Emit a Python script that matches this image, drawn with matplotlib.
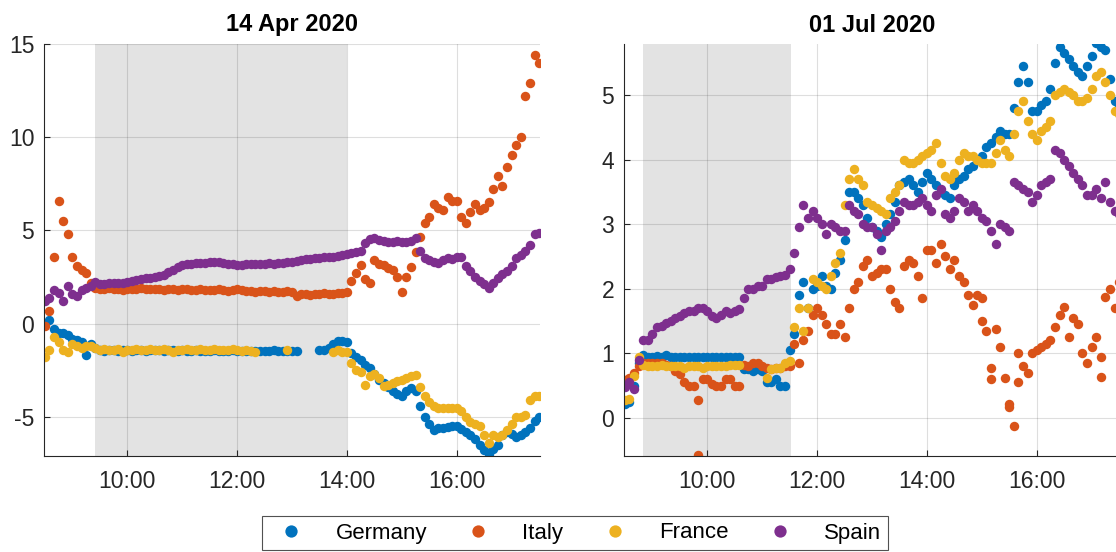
import numpy as np
import pandas as pd
import matplotlib
matplotlib.use('Agg')
import matplotlib.pyplot as plt
import matplotlib.dates as mdates

plt.rcParams['font.family'] = ['Liberation Sans', 'DejaVu Sans']
plt.rcParams['axes.unicode_minus'] = False

nan = np.nan
countries = ['Germany', 'Italy', 'France', 'Spain']
colors = ['#0072BD', '#D95319', '#EDB120', '#7E2F8E']

# values every 5 minutes, 08:30 ... 17:30 (one row = one hour starting at :30)
germany_apr = [0.0, 0.2, -0.3, -0.5, -0.5, -0.6, -0.8, -0.9, -1.0, -1.7, -1.1, -1.3,
               -1.4, -1.45, -1.4, -1.4, -1.45, -1.4, -1.4, -1.45, -1.4, -1.4, -1.45, -1.4,
               -1.4, -1.4, -1.45, -1.4, -1.4, -1.45, -1.4, -1.45, -1.45, -1.4, -1.45, -1.45,
               -1.45, -1.4, -1.45, -1.45, -1.45, -1.4, -1.45, -1.45, -1.45, -1.45, -1.45, -1.45,
               -1.45, -1.45, -1.4, -1.45, -1.45, -1.45, -1.45, -1.45, nan, nan, nan, nan,
               -1.4, -1.4, -1.3, -1.1, -0.95, -0.95, -1.0, -1.6, -1.8, -1.95, -2.2, -2.4,
               -2.7, -3.0, -3.2, -3.4, -3.6, -3.75, -3.9, -3.6, -3.45, -3.6, -4.4, -5.0,
               -5.4, -5.7, -5.6, -5.6, -5.55, -5.5, -5.5, -5.65, -5.8, -6.0, -6.2, -6.5,
               -6.8, -7.0, -6.7, -6.5, -6.0, -5.8, -5.9, -6.1, -6.0, -5.8, -5.6, -5.2,
               -5.0]
italy_apr = [-0.1, 0.7, 3.6, 6.6, 5.5, 4.8, 3.6, 3.1, 2.9, 2.7, 2.2, 1.9,
             1.85, 1.85, 1.9, 1.85, 1.85, 1.8, 1.85, 1.85, 1.85, 1.9, 1.85, 1.85,
             1.85, 1.85, 1.8, 1.85, 1.85, 1.8, 1.85, 1.85, 1.8, 1.8, 1.85, 1.8,
             1.8, 1.8, 1.85, 1.8, 1.75, 1.8, 1.85, 1.8, 1.75, 1.75, 1.7, 1.75,
             1.75, 1.7, 1.75, 1.7, 1.7, 1.75, 1.7, 1.5, 1.6, 1.6, 1.55, 1.6,
             1.6, 1.65, 1.6, 1.6, 1.65, 1.65, 1.7, 2.3, 2.7, 3.15, 2.4, 2.2,
             3.4, 3.2, 3.15, 3.0, 2.9, 2.5, 1.7, 2.5, 3.05, 3.85, 4.65, 5.4,
             5.7, 6.4, 6.2, 6.1, 6.8, 6.6, 6.6, 5.7, 5.4, 6.0, 6.4, 6.1,
             6.2, 6.5, 7.2, 7.9, 7.4, 8.4, 9.05, 9.6, 10.0, 12.2, 12.9, 14.4,
             14.0]
france_apr = [-1.8, -1.4, -0.7, -1.0, -1.4, -1.5, -1.1, -1.2, -1.3, -1.2, -1.2, -1.3,
              -1.4, -1.35, -1.4, -1.4, -1.35, -1.5, -1.4, -1.4, -1.35, -1.4, -1.4, -1.35,
              -1.4, -1.4, -1.35, -1.4, -1.5, -1.4, -1.4, -1.35, -1.4, -1.4, -1.35, -1.4,
              -1.4, -1.35, -1.4, -1.4, -1.4, -1.35, -1.4, -1.45, -1.4, -1.45, -1.5, nan,
              nan, nan, nan, nan, nan, -1.4, nan, nan, nan, nan, nan, nan,
              nan, nan, nan, -1.5, -1.4, -1.5, -1.5, -2.1, -2.5, -2.6, -3.3, -2.8,
              -2.7, -2.9, -3.35, -3.3, -3.2, -3.1, -3.0, -2.9, -2.8, -2.75, -3.4, -3.9,
              -4.2, -4.4, -4.5, -4.5, -4.55, -4.5, -4.5, -4.7, -5.0, -5.3, -5.4, -5.5,
              -6.0, -6.4, -6.0, -6.1, -6.0, -5.7, -5.4, -5.0, -5.0, -4.9, -4.1, -3.9,
              -3.9]
spain_apr = [1.2, 1.4, 1.8, 1.65, 1.2, 2.0, 1.6, 1.5, 1.8, 1.9, 2.0, 2.25,
             2.15, 2.15, 2.2, 2.2, 2.2, 2.2, 2.25, 2.3, 2.35, 2.4, 2.45, 2.45,
             2.5, 2.55, 2.6, 2.75, 2.9, 3.05, 3.15, 3.2, 3.2, 3.25, 3.25, 3.25,
             3.3, 3.3, 3.3, 3.25, 3.2, 3.2, 3.15, 3.15, 3.2, 3.2, 3.2, 3.2,
             3.2, 3.25, 3.2, 3.25, 3.25, 3.3, 3.3, 3.35, 3.4, 3.45, 3.45, 3.5,
             3.5, 3.55, 3.6, 3.6, 3.65, 3.7, 3.75, 3.8, 3.85, 3.9, 4.3, 4.55,
             4.6, 4.5, 4.45, 4.4, 4.4, 4.45, 4.4, 4.4, 4.45, 4.6, 3.9, 3.5,
             3.4, 3.3, 3.25, 3.4, 3.5, 3.45, 3.55, 3.6, 3.1, 2.8, 2.5, 2.3,
             2.1, 1.9, 2.2, 2.45, 2.65, 2.85, 3.1, 3.5, 3.7, 3.9, 4.2, 4.8,
             4.85]

germany_jul = [0.22, 0.25, 0.5, 0.85, 0.97, 0.95, 0.95, 0.96, 0.95, 0.97, 0.95, 0.95,
               0.95, 0.95, 0.94, 0.95, 0.95, 0.95, 0.95, 0.95, 0.95, 0.95, 0.95, 0.95,
               0.95, 0.95, 0.75, 0.75, 0.73, 0.75, 0.72, 0.56, 0.55, 0.6, 0.5, 0.5,
               1.05, 1.3, 1.9, 2.1, 1.7, 2.0, 2.05, 2.2, 2.05, 2.0, 2.25, 2.45,
               2.75, 3.5, 3.5, 3.4, 3.3, 3.1, 2.95, 2.9, 2.8, 3.0, 3.15, 3.35,
               3.6, 3.65, 3.7, 3.6, 3.5, 3.65, 3.8, 3.7, 3.6, 3.5, 3.45, 3.4,
               3.6, 3.7, 3.75, 3.85, 3.9, 4.0, 4.05, 4.2, 4.25, 4.35, 4.45, 4.4,
               4.4, 4.8, 5.2, 5.45, 5.2, 4.75, 4.75, 4.85, 4.9, 5.1, 5.5, 5.75,
               5.65, 5.55, 5.45, 5.35, 5.3, 5.45, 5.6, 5.8, 5.75, 5.7, 5.25, 4.9,
               4.85]
italy_jul = [0.58, 0.62, 0.7, 0.8, 0.85, 0.85, 0.85, 0.85, 0.85, 0.82, 0.8, 0.72,
             0.68, 0.55, 0.5, 0.5, 0.28, 0.6, 0.6, 0.52, 0.5, 0.5, 0.6, 0.6,
             0.5, 0.5, 0.82, 0.8, 0.85, 0.85, 0.8, 0.78, 0.75, 0.78, 0.78, 0.8,
             0.8, 1.15, 0.85, 1.2, 1.35, 1.6, 1.7, 1.6, 1.45, 1.3, 1.3, 1.45,
             1.25, 1.7, 2.0, 2.1, 2.35, 2.45, 2.2, 2.25, 2.3, 2.3, 2.0, 1.8,
             1.7, 2.35, 2.45, 2.4, 2.2, 1.85, 2.6, 2.6, 2.4, 2.7, 2.5, 2.3,
             2.45, 2.2, 2.1, 1.9, 1.75, 1.9, 1.85, 1.35, 0.78, 1.38, 1.1, 0.62,
             0.22, -0.13, 0.55, 0.8, 0.7, 1.0, 1.05, 1.1, 1.15, 1.2, 1.4, 1.6,
             1.72, 1.25, 1.55, 1.45, 1.0, 0.85, 1.1, 1.25, 0.63, 1.87, 2.0, 1.7,
             2.1]
france_jul = [0.28, 0.3, 0.65, 0.95, 0.82, 0.8, 0.8, 0.8, 0.82, 0.8, 0.8, 0.8,
              0.8, 0.78, 0.8, 0.8, 0.8, 0.78, 0.8, 0.8, 0.8, 0.8, 0.8, 0.82,
              0.82, 0.82, nan, nan, nan, nan, nan, 0.62, 0.75, 0.77, 0.78, 0.85,
              0.88, 1.4, 1.7, 1.35, 1.7, 2.15, 2.1, 2.05, 2.0, 2.2, 2.4, 2.55,
              3.3, 3.7, 3.85, 3.7, 3.6, 3.35, 3.3, 3.25, 3.2, 3.15, 3.4, 3.5,
              3.6, 4.0, 3.95, 3.95, 4.0, 4.05, 4.1, 4.15, 4.25, 3.95, 3.75, 3.7,
              3.8, 4.0, 4.1, 4.05, 4.05, 4.0, 3.95, 3.95, 3.95, 4.1, 4.3, 4.15,
              4.05, 4.4, 4.75, 4.9, 4.6, 4.4, 4.3, 4.45, 4.5, 4.6, 5.0, 5.05,
              5.1, 5.05, 5.0, 4.9, 4.9, 4.95, 5.1, 5.3, 5.35, 5.2, 5.0, 4.75,
              4.7]
spain_jul = [0.48, 0.55, 0.45, 0.9, 1.2, 1.2, 1.3, 1.4, 1.42, 1.47, 1.5, 1.55,
             1.58, 1.62, 1.65, 1.65, 1.7, 1.7, 1.65, 1.58, 1.55, 1.6, 1.65, 1.63,
             1.65, 1.68, 1.85, 2.0, 2.0, 2.05, 2.05, 2.15, 2.15, 2.18, 2.2, 2.22,
             2.3, 2.55, 2.95, 3.3, 3.1, 3.2, 3.1, 3.0, 2.85, 3.0, 2.95, 2.9,
             2.9, 3.3, 3.2, 3.15, 3.0, 2.95, 2.95, 2.85, 2.6, 2.9, 2.95, 3.05,
             3.2, 3.35, 3.3, 3.3, 3.35, 3.4, 3.3, 3.2, 3.45, 3.55, 3.15, 3.1,
             3.2, 3.4, 3.35, 3.2, 3.3, 3.2, 3.1, 3.05, 2.9, 2.7, 3.0, 2.95,
             2.9, 3.65, 3.6, 3.55, 3.5, 3.35, 3.45, 3.6, 3.65, 3.7, 4.15, 4.1,
             4.0, 3.9, 3.8, 3.7, 3.6, 3.45, 3.45, 3.55, 3.4, 3.65, 3.35, 3.2,
             3.15]

# a few scattered Italy ticks in July that sit off the main trail
italy_jul_extra_time = ['09:50', '15:00', '15:10', '15:30', '15:40', '17:10']
italy_jul_extra = [-0.57, 1.5, 0.6, 0.17, 1.0, 0.95]

fig = plt.figure(figsize=(11.16, 5.52), dpi=100)
ax1 = fig.add_axes([44/1116, 96/552, 496/1116, 412/552])
ax2 = fig.add_axes([624/1116, 96/552, 496/1116, 412/552])


def panel(ax, day, series, shade, ylim, yticks, title, extra=None):
    times = pd.date_range(day + ' 08:30', day + ' 17:30', freq='5min')
    ax.axvspan(pd.Timestamp(day + ' ' + shade[0]), pd.Timestamp(day + ' ' + shade[1]),
               color='#e3e3e3', lw=0, zorder=0)
    for name, col, vals in zip(countries, colors, series):
        ax.plot(times, vals, 'o', ms=6.8, mec='none', color=col, label=name, zorder=2)
        if extra is not None and name == 'Italy':
            et = [pd.Timestamp(day + ' ' + t) for t in extra[0]]
            ax.plot(et, extra[1], 'o', ms=6.8, mec='none', color=col, zorder=2)
    ax.set_xlim(pd.Timestamp(day + ' 08:29'), pd.Timestamp(day + ' 17:31'))
    ax.set_xticks([pd.Timestamp(day + ' ' + h) for h in ['10:00', '12:00', '14:00', '16:00']])
    ax.xaxis.set_major_formatter(mdates.DateFormatter('%H:%M'))
    ax.set_ylim(*ylim)
    ax.set_yticks(yticks)
    ax.grid(True, color='#262626', alpha=0.15, lw=0.8)
    for s in ['top', 'right']:
        ax.spines[s].set_visible(False)
    for s in ['left', 'bottom']:
        ax.spines[s].set_color('#262626')
        ax.spines[s].set_linewidth(0.8)
    ax.tick_params(direction='in', length=4, width=0.8, colors='#262626', labelsize=16.5)
    ax.tick_params(axis='x', pad=10)
    ax.tick_params(axis='y', pad=7)
    ax.set_title(title, fontsize=17, fontweight='bold', pad=9)


panel(ax1, '2020-04-14', [germany_apr, italy_apr, france_apr, spain_apr],
      ('09:25', '14:00'), (-7.1, 15), [-5, 0, 5, 10, 15], '14 Apr 2020')
panel(ax2, '2020-07-01', [germany_jul, italy_jul, france_jul, spain_jul],
      ('08:50', '11:31'), (-0.59, 5.79), [0, 1, 2, 3, 4, 5], '01 Jul 2020',
      extra=(italy_jul_extra_time, italy_jul_extra))

handles, labels = ax1.get_legend_handles_labels()
leg = fig.legend(handles, labels, loc='center', bbox_to_anchor=(575/1116, 1 - 533/552),
                 ncol=4, frameon=True, fancybox=False, edgecolor='#262626',
                 fontsize=16, handlelength=2.0, handletextpad=1.0,
                 columnspacing=1.3, borderpad=0.3, markerscale=1.3)
leg.get_frame().set_linewidth(0.8)

fig.savefig('out.png', dpi=100)
